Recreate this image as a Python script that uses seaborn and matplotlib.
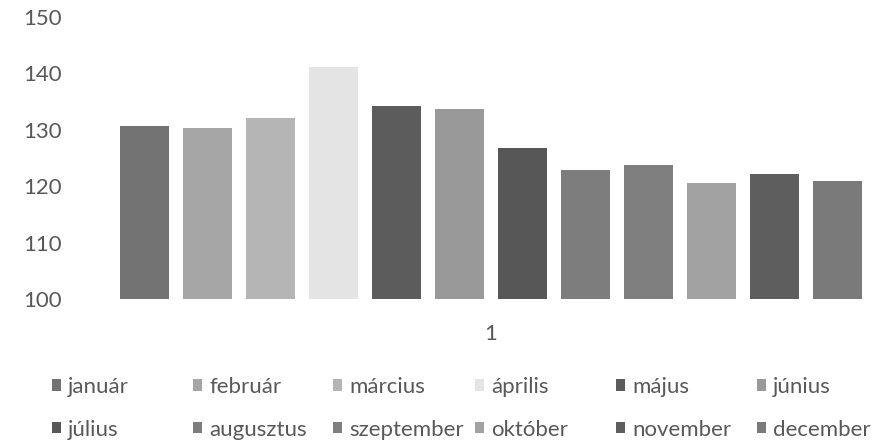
import pandas as pd
import matplotlib
matplotlib.use("Agg")
import matplotlib.pyplot as plt
import seaborn as sns
from matplotlib.patches import Patch

# data
months = ["január", "február", "március", "április", "május", "június",
          "július", "augusztus", "szeptember", "október", "november", "december"]
values = [130.7, 130.4, 132.1, 141.2, 134.3, 133.6,
          126.8, 122.9, 123.7, 120.6, 122.2, 120.9]
category = ["1"] * len(months)
colors = ["#737373", "#a6a6a6", "#b5b5b5", "#e4e4e4", "#5c5c5c", "#999999",
          "#575757", "#7d7d7d", "#7f7f7f", "#a2a2a2", "#5e5e5e", "#7a7a7a"]
y_ticks = [100, 110, 120, 130, 140, 150]

sns.set_style("white")
plt.rcParams["font.family"] = ["Lato", "DejaVu Sans"]

df = pd.DataFrame({"x": category, "month": months, "value": values})
palette = dict(zip(months, colors))

W, H = 876, 444
fig = plt.figure(figsize=(W / 100, H / 100), dpi=100)
ax = fig.add_axes([70 / W, 1 - 299 / H, (876 - 70) / W, (299 - 17) / H])

sns.barplot(data=df, x="x", y="value", hue="month", hue_order=months,
            palette=palette, width=0.8, gap=0.22, legend=False, ax=ax,
            saturation=1, edgecolor="none")

ax.set_ylim(100, 150)
ax.set_yticks(y_ticks)
ax.set_xlim(-0.4455, 0.4074)
ax.set_xlabel("")
ax.set_ylabel("")
for s in ax.spines.values():
    s.set_visible(False)
ax.tick_params(axis="both", length=0, labelsize=16, colors="#595959")
ax.tick_params(axis="y", pad=6)
ax.tick_params(axis="x", pad=18)

# legend: Excel-like uniform columns, one small legend per column
handles = [Patch(facecolor=c, edgecolor="none") for c in colors]
col_x = [52, 193, 333, 475, 616, 757]
for i, x in enumerate(col_x):
    leg = fig.legend([handles[i], handles[i + 6]], [months[i], months[i + 6]],
                     loc="upper left", bbox_to_anchor=(x / W, 1 - 377 / H),
                     frameon=False, fontsize=16, borderpad=0, borderaxespad=0,
                     handlelength=0.42, handleheight=0.42, handletextpad=0.3,
                     labelspacing=1.02)
    for t in leg.get_texts():
        t.set_color("#595959")

fig.savefig("out.png", dpi=100)
